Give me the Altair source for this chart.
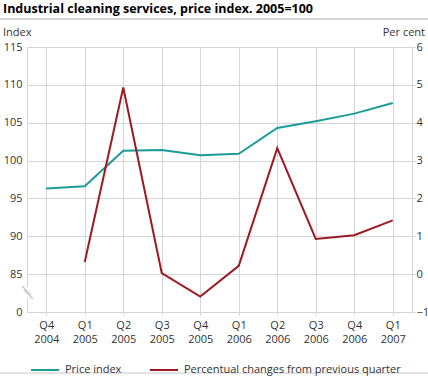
import altair as alt
import pandas as pd

quarters = ["Q4 2004", "Q1 2005", "Q2 2005", "Q3 2005", "Q4 2005",
            "Q1 2006", "Q2 2006", "Q3 2006", "Q4 2006", "Q1 2007"]
price_index = [96.3, 96.6, 101.3, 101.4, 100.7, 100.9, 104.3, 105.2, 106.2, 107.6]
pct_change = [None, 0.32, 4.93, 0.03, -0.59, 0.22, 3.33, 0.93, 1.03, 1.42]
series = ["Price index", "Percentual changes from previous quarter"]
colors = ["#1b9c98", "#9d1a22"]
left_ticks = [80, 85, 90, 95, 100, 105, 110, 115]
right_ticks = [-1, 0, 1, 2, 3, 4, 5, 6]
chart_title = "Industrial cleaning services, price index. 2005=100"
left_title = "Index"
right_title = "Per cent"

FONT = "Open Sans"
TXT = "#333333"
GRID = "#d6d6d6"

df_price = pd.DataFrame({"quarter": quarters, "value": price_index, "series": series[0]})
df_pct = pd.DataFrame({"quarter": quarters, "value": pct_change, "series": series[1]}).dropna()
one = pd.DataFrame({"a": [0]})

x_enc = alt.X(
    "quarter:N", sort=quarters,
    scale=alt.Scale(type="point", padding=0.5),
    axis=alt.Axis(title=None, labelExpr="split(datum.label, ' ')", labelAngle=0,
                  grid=True, gridColor=GRID, ticks=True, tickSize=3, tickColor=GRID,
                  domainColor=GRID, labelPadding=4, labelLineHeight=14,
                  labelFontSize=11, labelColor=TXT, labelFont=FONT),
)

color_enc = alt.Color(
    "series:N",
    scale=alt.Scale(domain=series, range=colors),
    legend=alt.Legend(title=None, orient="none", legendX=3, legendY=308,
                      direction="horizontal", symbolType="stroke", symbolSize=784,
                      symbolStrokeWidth=2, labelFontSize=11, labelFont=FONT,
                      labelColor=TXT, columnPadding=24, labelOffset=5, labelLimit=400),
)

price_line = alt.Chart(df_price).mark_line(strokeWidth=2).encode(
    x=x_enc,
    y=alt.Y("value:Q",
            scale=alt.Scale(domain=[80, 115], nice=False, zero=False),
            axis=alt.Axis(values=left_ticks, title=None,
                          labelExpr="datum.value == 80 ? '0' : datum.label",
                          grid=True, gridColor=GRID, ticks=False, domainColor=GRID,
                          labelPadding=5, labelFontSize=11, labelFont=FONT, labelColor=TXT)),
    color=color_enc,
)

pct_line = alt.Chart(df_pct).mark_line(strokeWidth=2).encode(
    x=x_enc,
    y=alt.Y("value:Q",
            scale=alt.Scale(domain=[-1, 6], nice=False, zero=False),
            axis=alt.Axis(orient="right", values=right_ticks, title=None,
                          grid=False, ticks=True, tickSize=3, tickColor=GRID,
                          domainColor=GRID, labelPadding=1, labelFontSize=11,
                          labelFont=FONT, labelColor=TXT)),
    color=color_enc,
)

# titles as text
title_txt = alt.Chart(one).mark_text(text=chart_title, font=FONT, fontSize=12.5, fontWeight="bold",
                                     color="#000000", align="left", baseline="alphabetic").encode(
    x=alt.value(-24), y=alt.value(-34))
ltitle = alt.Chart(one).mark_text(text=left_title, font=FONT, fontSize=11, color=TXT,
                                  align="left", baseline="alphabetic").encode(
    x=alt.value(-24), y=alt.value(-11))
rtitle = alt.Chart(one).mark_text(text=right_title, font=FONT, fontSize=11, color=TXT,
                                  align="right", baseline="alphabetic").encode(
    x=alt.value(398), y=alt.value(-11))

# decorations: axis break marks and separator lines
brk_gap = alt.Chart(one).mark_rule(color="white", strokeWidth=3).encode(
    x=alt.value(0), y=alt.value(240), y2=alt.value(251))
brk1 = alt.Chart(one).mark_rule(color="#c8c8c8", strokeWidth=1.2).encode(
    x=alt.value(-5), x2=alt.value(4), y=alt.value(239), y2=alt.value(248))
brk2 = alt.Chart(one).mark_rule(color="#c8c8c8", strokeWidth=1.2).encode(
    x=alt.value(-3), x2=alt.value(6), y=alt.value(243), y2=alt.value(252))
top_sep = alt.Chart(one).mark_rule(color="#d4d4d4", strokeWidth=2).encode(
    x=alt.value(-27), x2=alt.value(401), y=alt.value(-28))
bot_sep = alt.Chart(one).mark_rule(color="#c8c8c8", strokeWidth=1).encode(
    x=alt.value(-27), x2=alt.value(401), y=alt.value(326))

chart = alt.layer(price_line, pct_line, brk_gap, brk1, brk2, top_sep, bot_sep,
                  title_txt, ltitle, rtitle).resolve_scale(
    y="independent"
).properties(
    width=385, height=265,
    autosize=alt.AutoSizeParams(type="none"),
    padding={"left": 27, "top": 47, "right": 16, "bottom": 64},
).configure_view(stroke=None)

chart.save("out.html", embed_options={"renderer": "svg", "actions": False})
